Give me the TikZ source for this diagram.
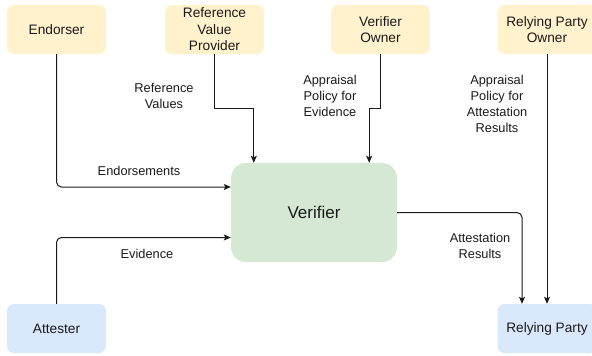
\documentclass[tikz,border=0pt]{standalone}
\usepackage{fontspec}
\setmainfont{Liberation Sans}
\usetikzlibrary{arrows.meta}
\definecolor{yel}{HTML}{FFF2CC}
\definecolor{grn}{HTML}{D5E8D4}
\definecolor{blu}{HTML}{DAE8FC}
\definecolor{ink}{HTML}{1A1A1A}
\tikzset{
  box/.style={draw=none, rounded corners=7pt, minimum width=99pt, minimum height=49pt,
    align=center, inner sep=0pt, text=ink, font=\fontsize{13.7}{16.5}\selectfont},
  ybox/.style={box, fill=yel},
  bbox/.style={box, fill=blu},
  vbox/.style={box, fill=grn, minimum width=166pt, minimum height=99pt, rounded corners=15pt,
    font=\fontsize{17}{20}\selectfont},
  lbl/.style={align=center, inner sep=0pt, text=ink, font=\fontsize{12.8}{16}\selectfont},
  arr/.style={draw=ink, line width=1pt, -{Stealth[length=7pt,width=6pt,inset=1.5pt]}}
}
\begin{document}
\begin{tikzpicture}[x=1pt,y=-1pt]
\useasboundingbox (0,0) rectangle (592,356);
\node[ybox] (end) at (56.5,29.5) {Endorser};
\node[ybox] (rvp) at (214.5,29.5) {Reference\\Value\\Provider};
\node[ybox] (vo) at (380.5,29.5) {Verifier\\Owner};
\node[ybox] (rpo) at (547,29.5) {Relying Party\\Owner};
\node[bbox] (att) at (56.5,328.5) {Attester};
\node[bbox] (rp) at (547,328.5) {Relying Party};
\node[vbox] (ver) at (314,212.5) {Verifier};

\draw[arr, rounded corners=5pt] (end.south) |- ([yshift=25.5pt]ver.west);
\draw[arr, rounded corners=5pt] (att.north) |- ([yshift=-25pt]ver.west);
\draw[arr] (rvp.south) -- +(0,54) -| ([xshift=23pt]ver.north west);
\draw[arr] (vo.south) -- +(0,54) -| ([xshift=-28pt]ver.north east);
\draw[arr] (rpo.south) -- (rpo.south |- rp.north);
\draw[arr, rounded corners=5pt] (ver.east) -| ([xshift=-25pt]rp.north);

\node[lbl] (l1) at (139,171) {Endorsements};
\node[lbl] (l2) at (147,254) {Evidence};
\node[lbl] (l3) at (164,96) {Reference\\Values};
\node[lbl] (l4) at (330,96) {Appraisal\\Policy for\\Evidence};
\node[lbl] (l5) at (497,104) {Appraisal\\Policy for\\Attestation\\Results};
\node[lbl] (l6) at (480,246) {Attestation\\Results};
\end{tikzpicture}
\end{document}
